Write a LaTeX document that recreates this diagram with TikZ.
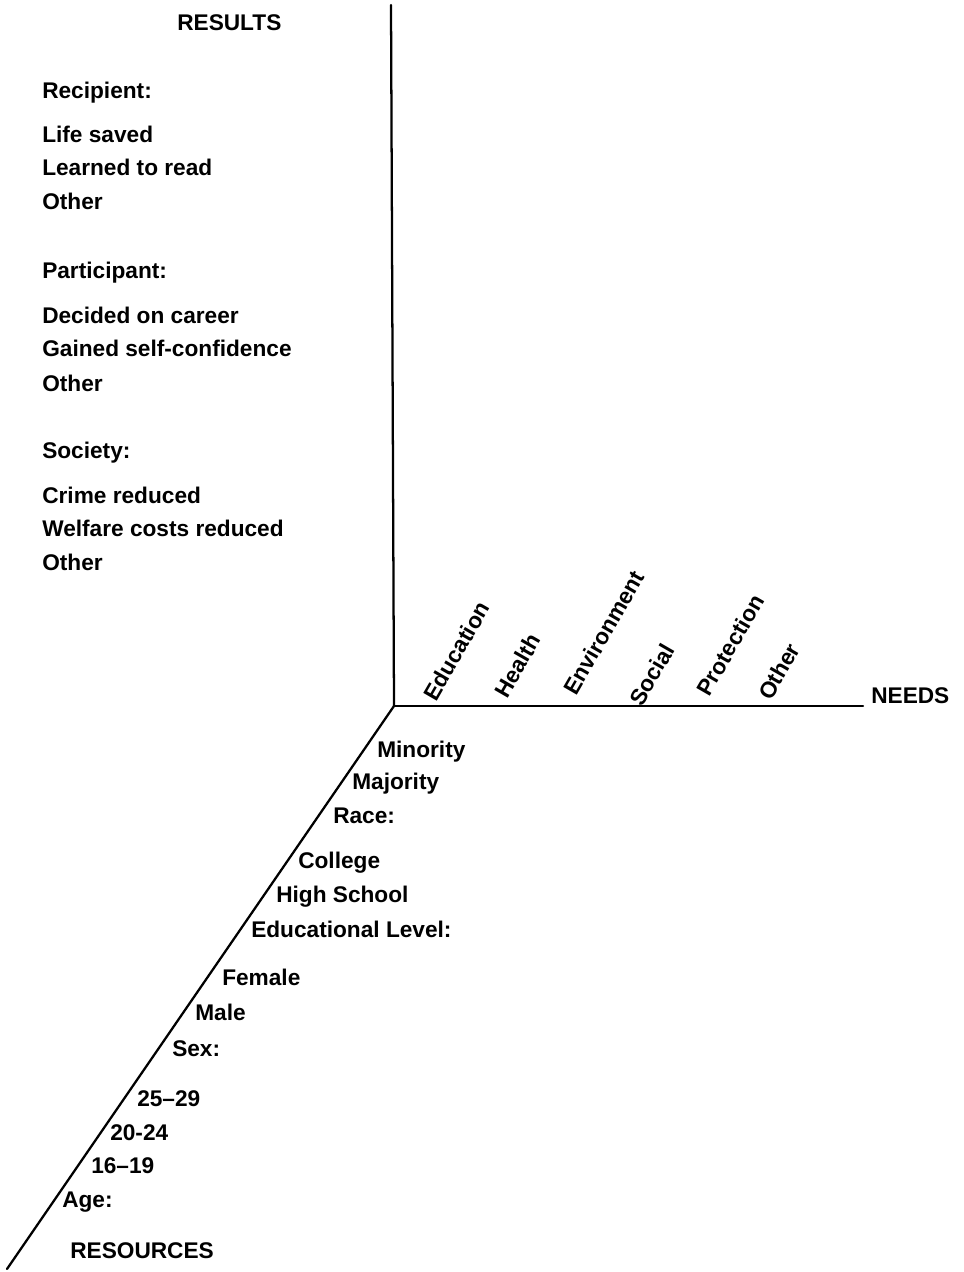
\documentclass[tikz,border=0pt]{standalone}
\usepackage{fontspec}
\setmainfont{Liberation Sans}
\begin{document}
\begin{tikzpicture}[x=0.75pt,y=-0.75pt,
  lbl/.style={anchor=base west,inner sep=0pt,font=\fontsize{17}{20}\selectfont\bfseries},
  need/.style={lbl,rotate=60},
  axis/.style={line width=1.7pt,line cap=round}]
\useasboundingbox (0,0) rectangle (964,1272);
% axes
\coordinate (top) at (391,5);
\coordinate (O) at (394,706);
\coordinate (nend) at (863,706);
\coordinate (rend) at (7,1269);
\draw[axis] (top) -- (O);
\draw[axis] (O) -- (nend);
\draw[axis] (O) -- (rend);
% results column
\node[lbl] (results) at (177,30) {RESULTS};
\node[lbl] (recip) at (42,98) {Recipient:};
\node[lbl] (life) at (42,142) {Life saved};
\node[lbl] (read) at (42,175) {Learned to read};
\node[lbl] (oth1) at (42,209) {Other};
\node[lbl] (partic) at (42,278) {Participant:};
\node[lbl] (career) at (42,323) {Decided on career};
\node[lbl] (conf) at (42,356) {Gained self-confidence};
\node[lbl] (oth2) at (42,391) {Other};
\node[lbl] (soc) at (42,458) {Society:};
\node[lbl] (crime) at (42,503) {Crime reduced};
\node[lbl] (welf) at (42,536) {Welfare costs reduced};
\node[lbl] (oth3) at (42,570) {Other};
% needs
\node[need] (ned) at (436,703) {Education};
\node[need] (nhe) at (507,700) {Health};
\node[need] (nen) at (576,697) {Environment};
\node[need] (nso) at (642,708) {Social};
\node[need] (npr) at (709,698) {Protection};
\node[need] (not) at (771,702) {Other};
\node[lbl] (needs) at (871,703) {NEEDS};
% resources
\node[lbl] (min) at (377,757) {Minority};
\node[lbl] (maj) at (352,789) {Majority};
\node[lbl] (race) at (333,823) {Race:};
\node[lbl] (coll) at (298,868) {College};
\node[lbl] (hs) at (276,902) {High School};
\node[lbl] (edl) at (251,937) {Educational Level:};
\node[lbl] (fem) at (222,985) {Female};
\node[lbl] (male) at (195,1020) {Male};
\node[lbl] (sex) at (172,1056) {Sex:};
\node[lbl] (a25) at (137,1106) {25--29};
\node[lbl] (a20) at (110,1140) {20-24};
\node[lbl] (a16) at (91,1173) {16--19};
\node[lbl] (age) at (62,1207) {Age:};
\node[lbl] (resources) at (70,1258) {RESOURCES};
\end{tikzpicture}
\end{document}
